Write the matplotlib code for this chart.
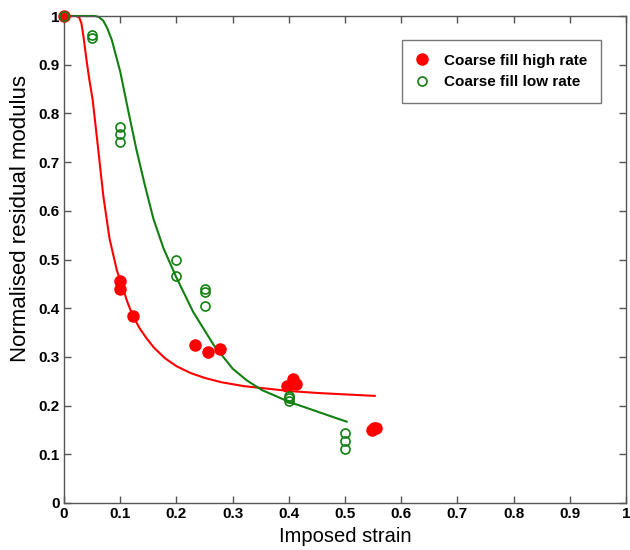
import matplotlib
matplotlib.use("Agg")
import matplotlib.pyplot as plt
from matplotlib.ticker import FuncFormatter

plt.rcParams['font.family'] = ['Liberation Sans', 'DejaVu Sans']

# Data points
high_x = [0.0, 0.1, 0.1, 0.123, 0.233, 0.256, 0.277, 0.397, 0.408, 0.413, 0.548, 0.552, 0.555]
high_y = [1.0, 0.455, 0.44, 0.383, 0.325, 0.31, 0.316, 0.24, 0.254, 0.245, 0.15, 0.153, 0.155]

low_x = [0.0, 0.05, 0.05, 0.1, 0.1, 0.1, 0.2, 0.2, 0.25, 0.25, 0.25, 0.4, 0.4, 0.4, 0.5, 0.5, 0.5]
low_y = [1.0, 0.962, 0.955, 0.773, 0.757, 0.742, 0.5, 0.466, 0.44, 0.433, 0.404, 0.22, 0.215, 0.21, 0.144, 0.128, 0.11]

# Fitted curves
high_fit_x = [0.0, 0.022, 0.027, 0.031, 0.035, 0.040, 0.045, 0.051, 0.061, 0.070, 0.081, 0.094,
              0.103, 0.113, 0.123, 0.135, 0.147, 0.160, 0.180, 0.200, 0.225, 0.250, 0.280,
              0.320, 0.360, 0.400, 0.450, 0.500, 0.553]
high_fit_y = [1.0, 1.0, 0.997, 0.985, 0.955, 0.910, 0.870, 0.828, 0.725, 0.630, 0.543, 0.478,
              0.447, 0.412, 0.383, 0.358, 0.338, 0.319, 0.297, 0.281, 0.267, 0.257, 0.248,
              0.240, 0.235, 0.230, 0.226, 0.223, 0.220]

low_fit_x = [0.0, 0.055, 0.062, 0.070, 0.077, 0.085, 0.100, 0.114, 0.129, 0.144, 0.159, 0.177,
             0.200, 0.230, 0.266, 0.300, 0.325, 0.352, 0.380, 0.402, 0.430, 0.455, 0.480, 0.503]
low_fit_y = [1.0, 1.0, 0.998, 0.990, 0.975, 0.951, 0.886, 0.807, 0.725, 0.652, 0.584, 0.523,
             0.463, 0.392, 0.325, 0.276, 0.252, 0.232, 0.218, 0.207, 0.196, 0.186, 0.176, 0.167]

x_ticks = [0, 0.1, 0.2, 0.3, 0.4, 0.5, 0.6, 0.7, 0.8, 0.9, 1]
y_ticks = [0, 0.1, 0.2, 0.3, 0.4, 0.5, 0.6, 0.7, 0.8, 0.9, 1]

red = '#ff0000'
green = '#118011'

fig = plt.figure(figsize=(6.3, 5.5), dpi=100)
ax = fig.add_axes([64/630, 47/550, 562/630, 487/550])

ax.plot(high_fit_x, high_fit_y, color=red, lw=1.5, clip_on=False, zorder=2,
        solid_joinstyle='round')
ax.plot(low_fit_x, low_fit_y, color=green, lw=1.5, clip_on=False, zorder=2,
        solid_joinstyle='round')

ax.plot(high_x, high_y, 'o', color=red, markersize=8, clip_on=False, zorder=3,
        label='Coarse fill high rate')
ax.plot(low_x, low_y, 'o', markerfacecolor='none', markeredgecolor=green, markersize=6.5,
        markeredgewidth=1.2, clip_on=False, zorder=4, label='Coarse fill low rate')

ax.set_xlim(0, 1)
ax.set_ylim(0, 1)
ax.set_xticks(x_ticks)
ax.set_yticks(y_ticks)
fmt = FuncFormatter(lambda v, p: ('%g' % v))
ax.xaxis.set_major_formatter(fmt)
ax.yaxis.set_major_formatter(fmt)
ax.tick_params(direction='in', top=True, right=True, length=5, width=1, color='#555555',
               labelsize=11, pad=3)
for lab in ax.get_xticklabels() + ax.get_yticklabels():
    lab.set_fontweight('bold')
for s in ax.spines.values():
    s.set_color('#555555')
    s.set_linewidth(1)

ax.set_xlabel('Imposed strain', fontsize=14.5, labelpad=4)
ax.set_ylabel('Normalised residual modulus', fontsize=16)
ax.yaxis.set_label_coords(-0.058, 0.585)

leg = ax.legend(loc='upper right', bbox_to_anchor=(0.955, 0.951), borderaxespad=0,
                frameon=True, fancybox=False,
                edgecolor='#555555', prop={'weight': 'bold', 'size': 11},
                handletextpad=1.1, borderpad=0.9, labelspacing=0.5, handlelength=0.7)
leg.get_frame().set_linewidth(1)

fig.savefig('out.png', dpi=100)
